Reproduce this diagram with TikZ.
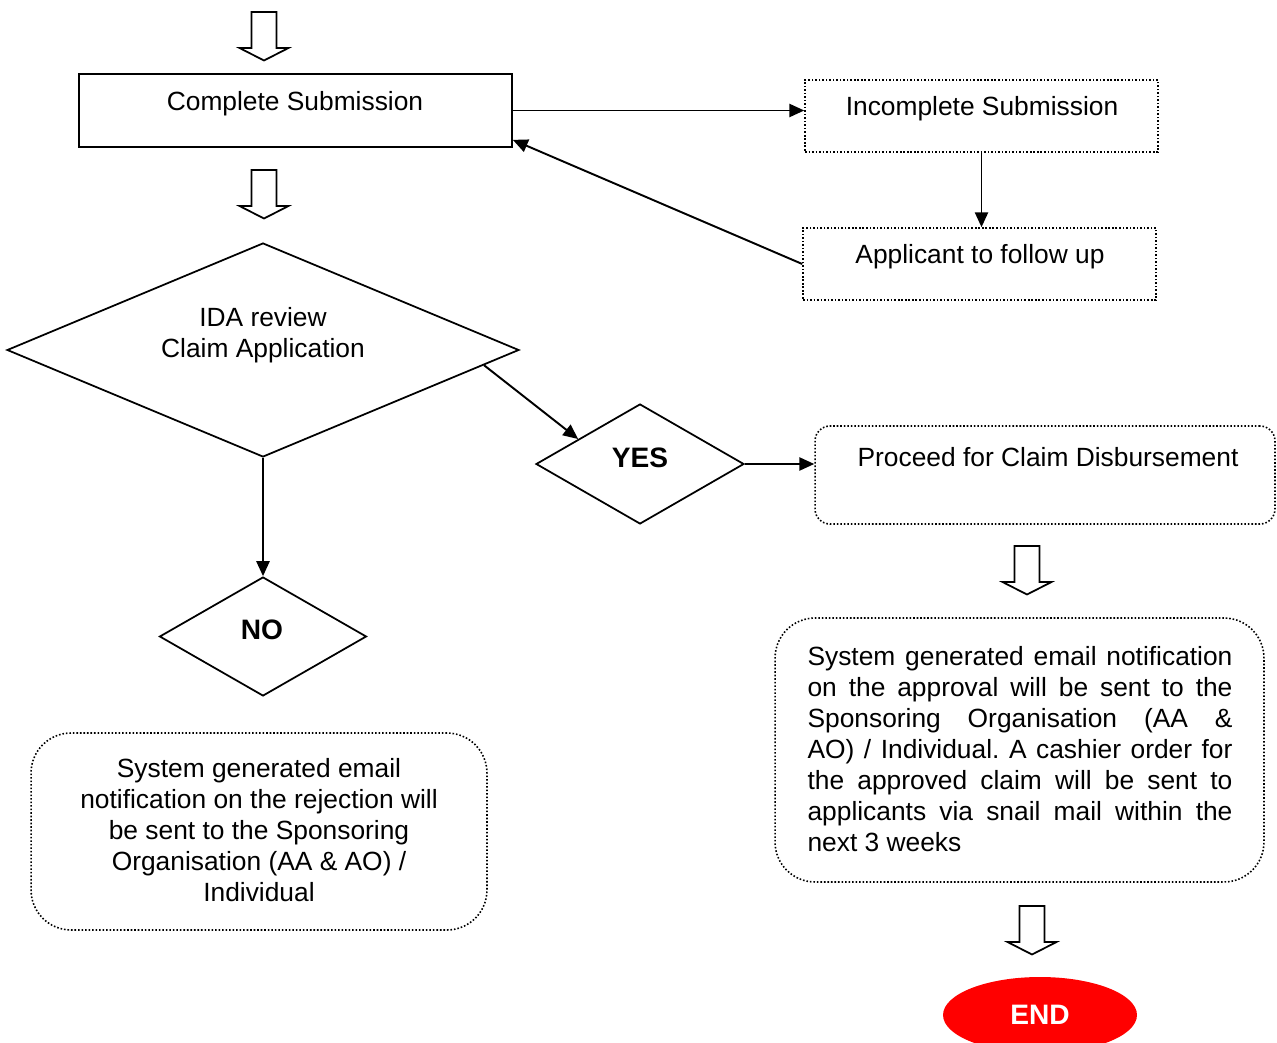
\documentclass[tikz,border=0pt]{standalone}
\usepackage{fontspec}
\setmainfont{Liberation Sans}
\usetikzlibrary{shapes.geometric,arrows.meta,calc}
\tikzset{
  solidbox/.style={draw, line width=1pt, rectangle, inner sep=0pt},
  dotbox/.style={draw, line width=0.9pt, dash pattern=on 0.9pt off 1.1pt, rectangle, inner sep=0pt},
  dotround/.style={dotbox, rounded corners=#1},
  dia/.style={draw, line width=1pt, diamond, inner sep=0pt},
  txt/.style={font=\fontsize{15}{17.6}\selectfont\frenchspacing, inner sep=0pt},
  bold/.style={font=\fontsize{16}{19}\selectfont\bfseries, inner sep=0pt},
  conn/.style={line width=1.1pt, -{Triangle[length=8.5pt,width=7.5pt]}},
  hollow/.style={draw, line width=1pt, fill=white},
}
\newcommand{\hollowarrow}[2]{%
  \draw[hollow] (#1-12.5,#2) -- (#1+12.5,#2) -- (#1+12.5,#2+36) -- (#1+24.5,#2+36)
    -- (#1,#2+48.5) -- (#1-24.5,#2+36) -- (#1-12.5,#2+36) -- cycle;}
\begin{document}
\begin{tikzpicture}[x=0.02cm, y=-0.02cm]
\useasboundingbox (0,0) rectangle (1277,1043);
\clip (0,0) rectangle (1277,1043);

% hollow arrows
\hollowarrow{264}{12}
\hollowarrow{264}{170}
\hollowarrow{1027}{546}
\hollowarrow{1032}{906}

% boxes
\node[solidbox, minimum width=8.66cm, minimum height=1.46cm] (comp) at (295.5,110.5) {};
\node[txt] (compt) at (295,104) {Complete Submission};

\node[dotbox, minimum width=7.06cm, minimum height=1.44cm] (inc) at (981.5,116) {};
\node[txt] (inct) at (982,109) {Incomplete Submission};

\node[dotbox, minimum width=7.06cm, minimum height=1.44cm] (app) at (979.5,264) {};
\node[txt] (appt) at (980,257) {Applicant to follow up};

% diamonds
\node[dia, minimum width=10.24cm, minimum height=4.28cm] (ida) at (263,350) {};
\node[txt, align=center] (idat) at (263,335) {IDA review\\Claim Application};

\node[dia, minimum width=4.16cm, minimum height=2.4cm] (yes) at (640,464) {};
\node[bold] (yest) at (640,458) {YES};

\node[dia, minimum width=4.14cm, minimum height=2.38cm] (no) at (263,636.5) {};
\node[bold] (not) at (262,630) {NO};

% rounded dotted boxes
\node[dotround=0.3cm, minimum width=9.2cm, minimum height=1.96cm] (proc) at (1045,475) {};
\node[txt] (proct) at (1048,457) {Proceed for Claim Disbursement};

\node[dotround=0.8cm, minimum width=9.78cm, minimum height=5.28cm] (appr) at (1019.5,750) {};
\node[txt, text width=8.5cm, align=justify] (apprt) at (1020,749)
  {System generated email notification\linebreak
   on the approval will be sent to the\linebreak
   Sponsoring Organisation (AA \&\linebreak
   AO) / Individual. A cashier order for\linebreak
   the approved claim will be sent to\linebreak
   applicants via snail mail within the\linebreak
   next 3 weeks};

\node[dotround=0.8cm, minimum width=9.12cm, minimum height=3.94cm] (rej) at (259,831.5) {};
\node[txt, align=center] (rejt) at (259,830)
  {System generated email\\notification on the rejection will\\be sent to the Sponsoring\\Organisation (AA \& AO) /\\Individual};

% END
\node[ellipse, fill=red, minimum width=3.88cm, minimum height=1.52cm, inner sep=0pt] (endn) at (1040,1015) {};
\node[bold, text=white] (endt) at (1040,1015) {END};

% connectors
\draw[conn] (comp.east) -- (comp.east -| inc.west);
\draw[conn] (inc.south) -- (inc.south |- app.north);
\draw[conn] (app.west) -- ([yshift=0.16cm]comp.south east);
\draw[conn] ($(ida.east)!0.14!(ida.south)$) -- ($(yes.west)!0.41!(yes.north)$);
\draw[conn] (yes.east) -- (yes.east -| proc.west);
\draw[conn] (ida.south) -- (no.north);
\end{tikzpicture}
\end{document}
